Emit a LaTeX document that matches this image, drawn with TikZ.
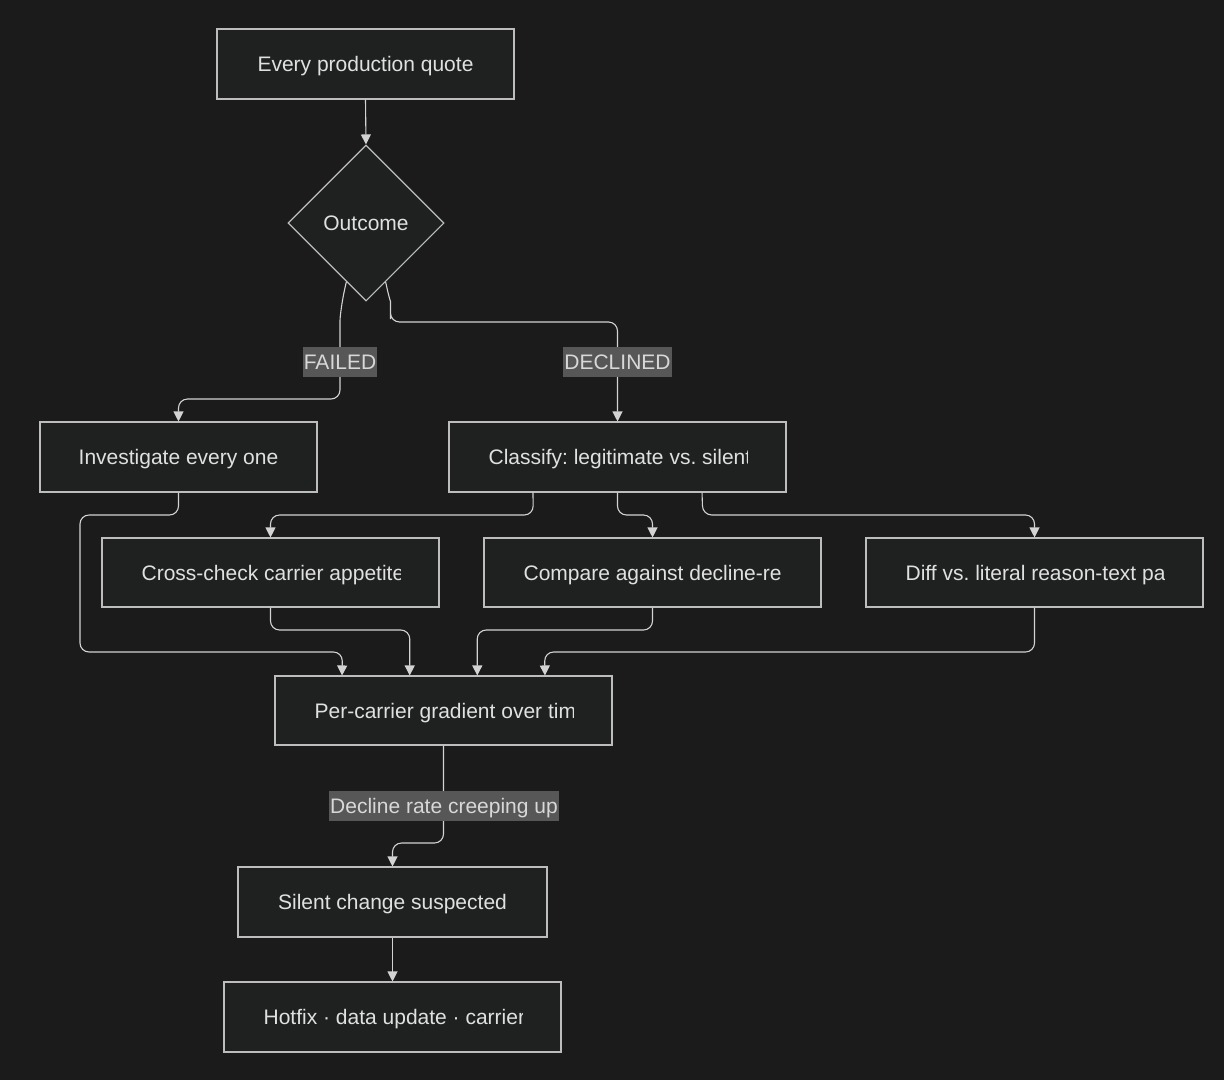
\documentclass[tikz,border=0pt]{standalone}
\usepackage{fontspec}
\setmainfont{Liberation Sans}
\usetikzlibrary{shapes.geometric,arrows.meta,calc}
\definecolor{bgc}{HTML}{1B1B1B}
\definecolor{nodec}{HTML}{1F2121}
\definecolor{strokec}{HTML}{BDBDBD}
\definecolor{edgec}{HTML}{D3D3D3}
\definecolor{textc}{HTML}{E0E0E0}
\definecolor{lblbg}{HTML}{575757}
\definecolor{lbltext}{HTML}{D8D8D8}
\newcommand\nodefont{\fontsize{21}{25}\selectfont}
\newcommand\cliptext[2]{%
  \begin{scope}
    \clip ($(#1.north west)+(40,0)$) rectangle ($(#1.south west)+(299,0)$);
    \node[txt,anchor=west] (#1-t) at ($(#1.west)+(40,0)$) {#2};
  \end{scope}}
\frenchspacing
\begin{document}
\begin{tikzpicture}[x=1pt,y=-1pt,
  box/.style={draw=strokec,fill=nodec,line width=1.1pt,minimum height=70pt,
    inner sep=0pt,text=textc,font=\nodefont,text height=19pt,text depth=4pt},
  dia/.style={diamond,aspect=1,draw=strokec,fill=nodec,line width=1.1pt,
    minimum width=156pt,minimum height=156pt,inner sep=0pt,text=textc,
    font=\nodefont,text height=19pt,text depth=4pt},
  txt/.style={inner sep=0pt,text=textc,font=\nodefont,text height=19pt,text depth=4pt},
  lbl/.style={fill=lblbg,text=lbltext,font=\nodefont,inner xsep=1pt,inner ysep=0pt,
    minimum height=30pt,text height=19pt,text depth=4pt},
  edge/.style={draw=edgec,line width=1.1pt,rounded corners=9pt,
    -{Triangle[length=10pt,width=10pt]}}]
\fill[bgc] (0,0) rectangle (1224,1080);
\useasboundingbox (0,0) rectangle (1224,1080);

% nodes
\node[box,minimum width=297pt] (q) at (365.5,64) {Every production quote};
\node[dia] (out) at (366,223) {Outcome};
\node[box,minimum width=277pt] (inv) at (178.5,457) {Investigate every one};
\node[box,minimum width=337pt] (cls) at (617.5,457) {};
\node[box,minimum width=337pt,minimum height=69pt] (crs) at (270.5,572.5) {};
\node[box,minimum width=337pt,minimum height=69pt] (cmp) at (652.5,572.5) {};
\node[box,minimum width=337pt,minimum height=69pt] (dif) at (1034.5,572.5) {};
\node[box,minimum width=337pt,minimum height=69pt] (per) at (443.5,710.5) {};
\node[box,minimum width=309pt] (sil) at (392.5,902) {Silent change suspected};
\node[box,minimum width=337pt] (hot) at (392.5,1017) {};

\cliptext{cls}{Classify: legitimate vs. silent}
\cliptext{crs}{Cross-check carrier appetite}
\cliptext{cmp}{Compare against decline-re}
\cliptext{dif}{Diff vs. literal reason-text pa}
\cliptext{per}{Per-carrier gradient over time}
\cliptext{hot}{Hotfix · data update · carrier}

% attachment points
\coordinate (fa) at ($(out.south)!0.25!(out.west)$);
\coordinate (de) at ($(out.south)!0.25!(out.east)$);
\coordinate (c1) at ($(cls.south west)!0.25!(cls.south east)$);
\coordinate (c3) at ($(cls.south west)!0.75!(cls.south east)$);
\coordinate (p1) at ($(per.north west)!0.2!(per.north east)$);
\coordinate (p2) at ($(per.north west)!0.4!(per.north east)$);
\coordinate (p3) at ($(per.north west)!0.6!(per.north east)$);
\coordinate (p4) at ($(per.north west)!0.8!(per.north east)$);

% edges
\draw[edge] (q.south) -- (out.north);
\draw[edge] (fa) .. controls +(-4,16) and +(0,-14) .. (340,330) -- (340,399) -- (178.5,399) -- (inv.north);
\draw[edge] (de) .. controls +(3,14) and +(0,-8) .. (390.5,310) -- (390.5,322) -- (617.5,322) -- (cls.north);
\draw[edge] (inv.south) -- (178.5,515) -- (80,515) -- (80,652) -- (342.4,652) -- (p1);
\draw[edge] (c1) -- (533.25,515) -- (270.5,515) -- (crs.north);
\draw[edge] (cls.south) -- (617.5,515) -- (652.5,515) -- (cmp.north);
\draw[edge] (c3) -- (702.75,515) -- (1034.5,515) -- (dif.north);
\draw[edge] (crs.south) -- (270.5,630) -- (409.8,630) -- (p2);
\draw[edge] (cmp.south) -- (652.5,630) -- (477.2,630) -- (p3);
\draw[edge] (dif.south) -- (1034.5,652) -- (544.6,652) -- (p4);
\draw[edge] (per.south) -- (443.5,843) -- (392.5,843) -- (sil.north);
\draw[edge] (sil.south) -- (hot.north);

% edge labels
\node[lbl] (lf) at (340,362) {FAILED};
\node[lbl] (ld) at (617.5,362) {DECLINED};
\node[lbl] (lr) at (444,806) {Decline rate creeping up};
\end{tikzpicture}
\end{document}
